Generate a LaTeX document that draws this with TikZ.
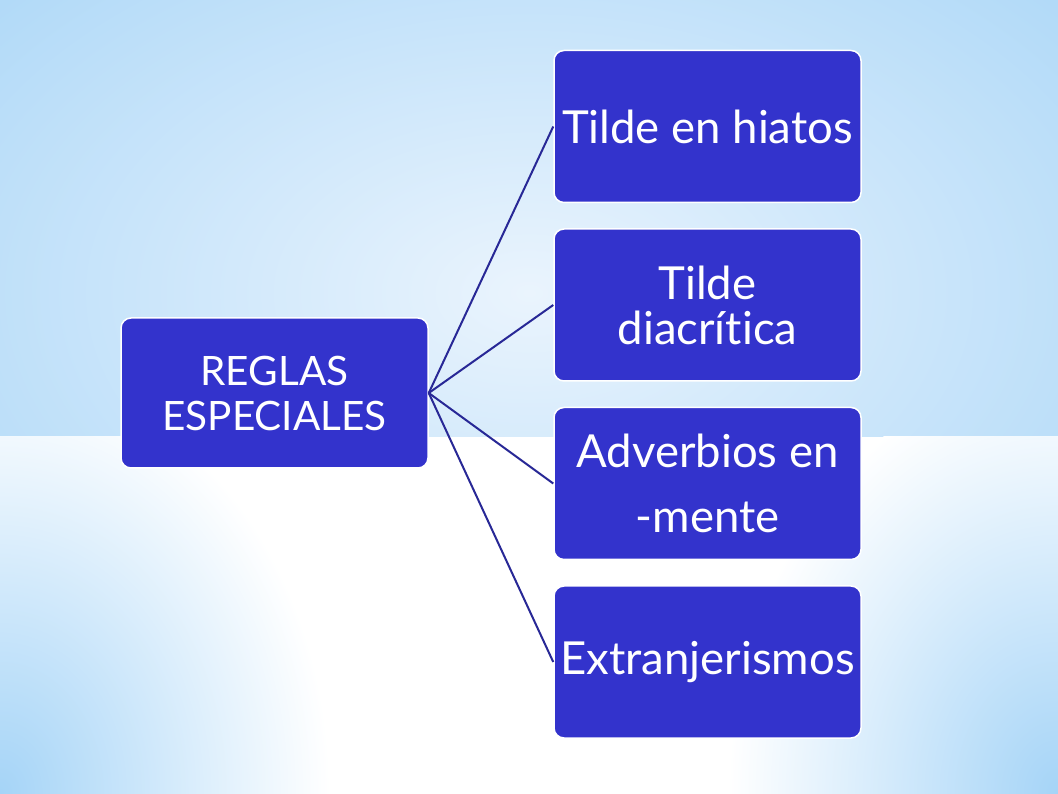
\documentclass[tikz,border=0pt]{standalone}
\usepackage{fontspec}
\setmainfont{Lato}[Ligatures={NoCommon}]
\usetikzlibrary{positioning}

\definecolor{boxblue}{RGB}{51,51,204}
\definecolor{linkblue}{RGB}{40,40,150}
\definecolor{skyblue}{RGB}{178,218,248}
\definecolor{cornerblue}{RGB}{165,212,247}
\definecolor{paleblue}{RGB}{234,244,253}

\begin{document}
\begin{tikzpicture}[x=1pt, y=1pt,
    rulebox/.style={rectangle, rounded corners=10pt, draw=white, line width=1.5pt, fill=boxblue, text=white, minimum width=307pt, minimum height=152pt, align=center, font=\fontsize{45.5}{45}\selectfont},
    mainbox/.style={rulebox, minimum height=150pt, font=\fontsize{40.5}{45}\selectfont},
    link/.style={draw=linkblue, line width=2pt},
    node distance=25pt
   ]
   % background
   \useasboundingbox (0,0) rectangle (1058,793);
   \begin{scope}
     \clip (0,356) rectangle (1058,793);
     \shade[inner color=paleblue, outer color=skyblue] (-170,60) rectangle (1228,940);
   \end{scope}
   \begin{scope}
     \clip (0,0) rectangle (1058,356);
     \fill[white] (0,0) rectangle (1058,356);
     \shade[inner color=cornerblue, outer color=white] (0,0) ellipse [x radius=330pt, y radius=420pt];
     \shade[inner color=cornerblue, outer color=white] (1058,0) ellipse [x radius=330pt, y radius=420pt];
   \end{scope}

   \node[rulebox]  (hiatos)       at (707.5,666.5)       {Tilde en hiatos};
   \node[rulebox]  (diacritica)   [below=of hiatos]      {Tilde\\diacrítica};
   \node[rulebox]  (adverbios)    [below=of diacritica]  {Adverbios en\\[20pt]-mente};
   \node[rulebox]  (extranjeros)  [below=of adverbios]   {Extranjerismos};
   \node[mainbox]  (reglas)       at (274.5,400)         {REGLAS\\ESPECIALES};

  \draw[link] (reglas.east) -- (hiatos.west);
  \draw[link] (reglas.east) -- (diacritica.west);
  \draw[link] (reglas.east) -- (adverbios.west);
  \draw[link] (reglas.east) -- (extranjeros.west);
 \end{tikzpicture}
\end{document}
